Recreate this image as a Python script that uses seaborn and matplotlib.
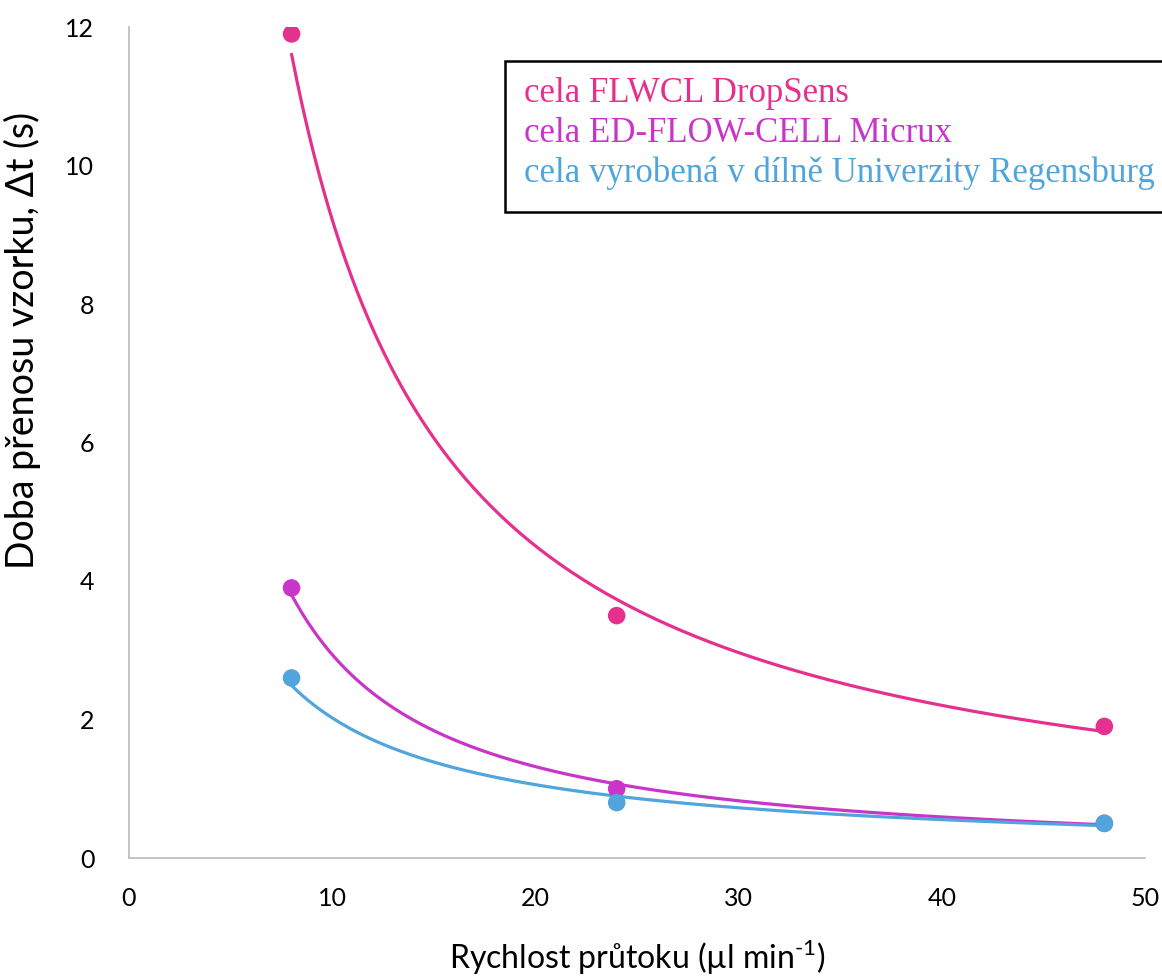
import numpy as np
import pandas as pd
import matplotlib
matplotlib.use("Agg")
import matplotlib.pyplot as plt
from matplotlib.patches import Rectangle
import seaborn as sns

# Flow rates (µl/min) and measured sample transfer times (s)
flow_rate = [8, 24, 48]
t_dropsens = [11.9, 3.5, 1.9]
t_micrux = [3.9, 1.0, 0.5]
t_regensburg = [2.6, 0.8, 0.5]

series_names = [
    "cela FLWCL DropSens",
    "cela ED-FLOW-CELL Micrux",
    "cela vyrobená v dílně Univerzity Regensburg",
]
series_colors = ["#E5308E", "#C935C9", "#4FA5DC"]

x_ticks = [0, 10, 20, 30, 40, 50]
y_ticks = [0, 2, 4, 6, 8, 10, 12]

sns.set_theme(style="white")
plt.rcParams["font.family"] = ["Lato", "DejaVu Sans"]
plt.rcParams["mathtext.fontset"] = "custom"
plt.rcParams["mathtext.rm"] = "Lato"

W, H = 1162, 980
fig = plt.figure(figsize=(W / 100, H / 100), dpi=100)
ax = fig.add_axes([129 / W, 1 - 858 / H, (1145 - 129) / W, (858 - 27) / H])

rows = []
for name, vals in zip(series_names, [t_dropsens, t_micrux, t_regensburg]):
    for x, y in zip(flow_rate, vals):
        rows.append({"flow": x, "time": y, "series": name})
df = pd.DataFrame(rows)

# Power-law trend lines y = a * x^b fitted in log-log space
fit_rows = []
xs = np.linspace(min(flow_rate), max(flow_rate), 300)
for name, vals in zip(series_names, [t_dropsens, t_micrux, t_regensburg]):
    b, loga = np.polyfit(np.log(flow_rate), np.log(vals), 1)
    for x in xs:
        fit_rows.append({"flow": x, "time": np.exp(loga) * x ** b, "series": name})
fit_df = pd.DataFrame(fit_rows)

palette = dict(zip(series_names, series_colors))
sns.lineplot(data=fit_df, x="flow", y="time", hue="series", palette=palette,
             linewidth=2.3, ax=ax, legend=False, sort=False)
sns.scatterplot(data=df, x="flow", y="time", hue="series", palette=palette,
                s=160, edgecolor="none", ax=ax, legend=False, zorder=5)

ax.set_xlim(0, 50)
ax.set_ylim(0, 12)
ax.set_xticks(x_ticks)
ax.set_yticks(y_ticks)
ax.tick_params(axis="both", labelsize=18, length=0, colors="black")
ax.tick_params(axis="x", pad=21)
ax.tick_params(axis="y", pad=25)

for side in ["top", "right"]:
    ax.spines[side].set_visible(False)
for side in ["left", "bottom"]:
    ax.spines[side].set_color("#BFBFBF")
    ax.spines[side].set_linewidth(1.3)

ax.set_xlabel("Rychlost průtoku (µl min$^{\\mathregular{‐1}}$)", fontsize=23,
              labelpad=20, color="black")
ax.set_ylabel("Doba přenosu vzorku, Δt (s)", fontsize=27, color="black")
ax.yaxis.set_label_coords(-0.087, 0.623)

# Legend box with coloured series names
fig.patches.append(Rectangle((505 / W, 1 - 212 / H), (1175 - 505) / W, (212 - 61) / H,
                             transform=fig.transFigure, facecolor="white",
                             edgecolor="black", linewidth=1.8, zorder=10))
for i, (name, c) in enumerate(zip(series_names, series_colors)):
    fig.text(524 / W, 1 - (102 + 40 * i) / H, name, color=c, fontsize=25,
             family="Liberation Serif", ha="left", va="baseline", zorder=11)

fig.savefig("out.png", dpi=100)
